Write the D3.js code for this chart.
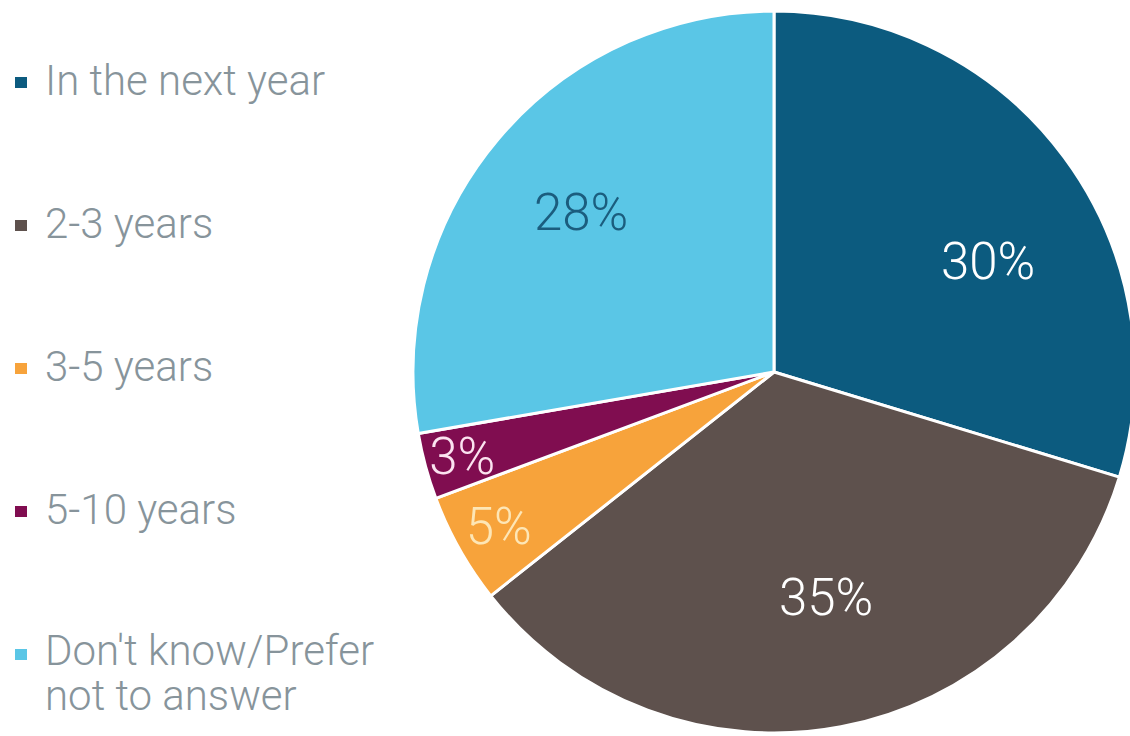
<!DOCTYPE html>
<html><head><meta charset="utf-8">
<script src="https://cdn.jsdelivr.net/npm/d3@7"></script>
<style>
html,body{margin:0;padding:0;background:#fff;}
svg{display:block;font-family:Roboto,"Open Sans",sans-serif;}
</style></head>
<body>
<svg id="chart" width="1130" height="736"></svg>
<script>
const categories = ["In the next year", "2-3 years", "3-5 years", "5-10 years", "Don't know/Prefer not to answer"];
const legendLines = [["In the next year"], ["2-3 years"], ["3-5 years"], ["5-10 years"], ["Don't know/Prefer", "not to answer"]];
const values = [30, 35, 5, 3, 28];
const valueLabels = ["30%", "35%", "5%", "3%", "28%"];
const colors = ["#0c5b7f", "#5e514d", "#f7a33b", "#800d50", "#5ac6e6"];
const labelColors = ["#ffffff", "#ffffff", "#fde6b6", "#fbe3f0", "#1b5d7e"];
const labelRadius = [241, 232, 316, 323, 250];
const labelAngleShift = [0.16, -0.04, 0, 0, -0.01];

const svg = d3.select("#chart");
const cx = 774, cy = 372, R = 361;

const pie = d3.pie().sort(null).value(d => d)(values);
const arc = d3.arc().innerRadius(0).outerRadius(R);

const g = svg.append("g").attr("transform", `translate(${cx},${cy})`);
g.selectAll("path.slice").data(pie).enter().append("path")
  .attr("class", "slice")
  .attr("d", arc)
  .attr("fill", (d, i) => colors[i])
  .attr("stroke", "#ffffff")
  .attr("stroke-width", 3)
  .attr("stroke-linejoin", "round");

g.selectAll("text.val").data(pie).enter().append("text")
  .attr("class", "val")
  .attr("transform", (d, i) => {
    const a = (d.startAngle + d.endAngle) / 2 + labelAngleShift[i];
    const r = labelRadius[i];
    return `translate(${r * Math.sin(a)},${-r * Math.cos(a)})`;
  })
  .attr("text-anchor", "middle")
  .attr("dy", "0.34em")
  .attr("font-size", 51)
  .attr("font-weight", 300)
  .attr("fill", (d, i) => labelColors[i])
  .text((d, i) => valueLabels[i]);

const y = d3.scaleBand().domain(categories).range([23, 738]);
const leg = svg.append("g");
const items = leg.selectAll("g.item").data(categories).enter().append("g")
  .attr("class", "item")
  .attr("transform", d => `translate(0,${y(d) + 72})`);
items.append("rect")
  .attr("x", 15).attr("y", -18).attr("width", 12).attr("height", 11)
  .attr("fill", (d, i) => colors[i]);
items.each(function(d, i) {
  const lines = legendLines[i];
  d3.select(this).selectAll("text").data(lines).enter().append("text")
    .attr("x", 45)
    .attr("y", (t, j) => j === 0 ? (lines.length > 1 ? -2 : 0) : 43)
    .attr("font-size", 42)
    .attr("font-weight", 300)
    .attr("fill", "#87949b")
    .text(t => t);
});
</script>
</body></html>
